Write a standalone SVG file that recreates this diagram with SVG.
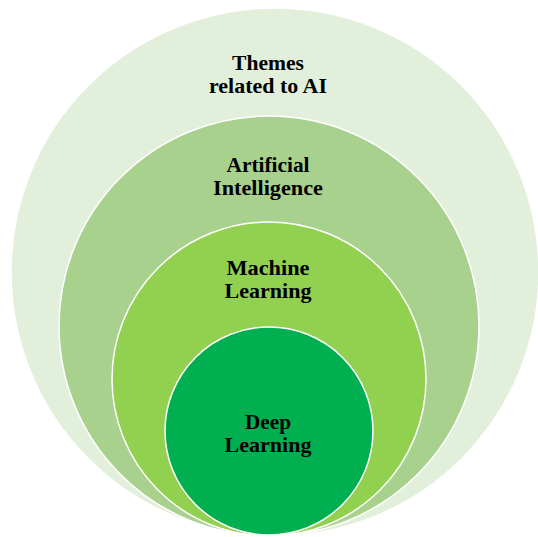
<svg xmlns="http://www.w3.org/2000/svg" width="538" height="537" viewBox="0 0 538 537">
  <style>
    .ring { stroke: #ffffff; stroke-width: 1.5; }
    .label { font-family: "Liberation Serif", "Times New Roman", serif; font-weight: bold; font-size: 22px; fill: #000000; text-anchor: middle; }
  </style>
  <rect width="538" height="537" fill="#ffffff"/>
  <g id="themes">
    <circle class="ring" cx="275" cy="272" r="264" fill="#E2EFDA"/>
    <text class="label" x="268" y="70" textLength="72" lengthAdjust="spacingAndGlyphs">Themes</text>
    <text class="label" x="268" y="93" textLength="118" lengthAdjust="spacingAndGlyphs">related to AI</text>
  </g>
  <g id="artificial-intelligence">
    <circle class="ring" cx="269" cy="326" r="210" fill="#A9D18E"/>
    <text class="label" x="268" y="172" textLength="83" lengthAdjust="spacingAndGlyphs">Artificial</text>
    <text class="label" x="268" y="195" textLength="110" lengthAdjust="spacingAndGlyphs">Intelligence</text>
  </g>
  <g id="machine-learning">
    <circle class="ring" cx="269" cy="379" r="157" fill="#92D050"/>
    <text class="label" x="268" y="275" textLength="83" lengthAdjust="spacingAndGlyphs">Machine</text>
    <text class="label" x="268" y="298" textLength="87" lengthAdjust="spacingAndGlyphs">Learning</text>
  </g>
  <g id="deep-learning">
    <circle class="ring" cx="269" cy="431" r="104" fill="#00B050"/>
    <text class="label" x="268" y="429" textLength="46" lengthAdjust="spacingAndGlyphs">Deep</text>
    <text class="label" x="268" y="452" textLength="87" lengthAdjust="spacingAndGlyphs">Learning</text>
  </g>
  <g id="connectors"/>
</svg>
